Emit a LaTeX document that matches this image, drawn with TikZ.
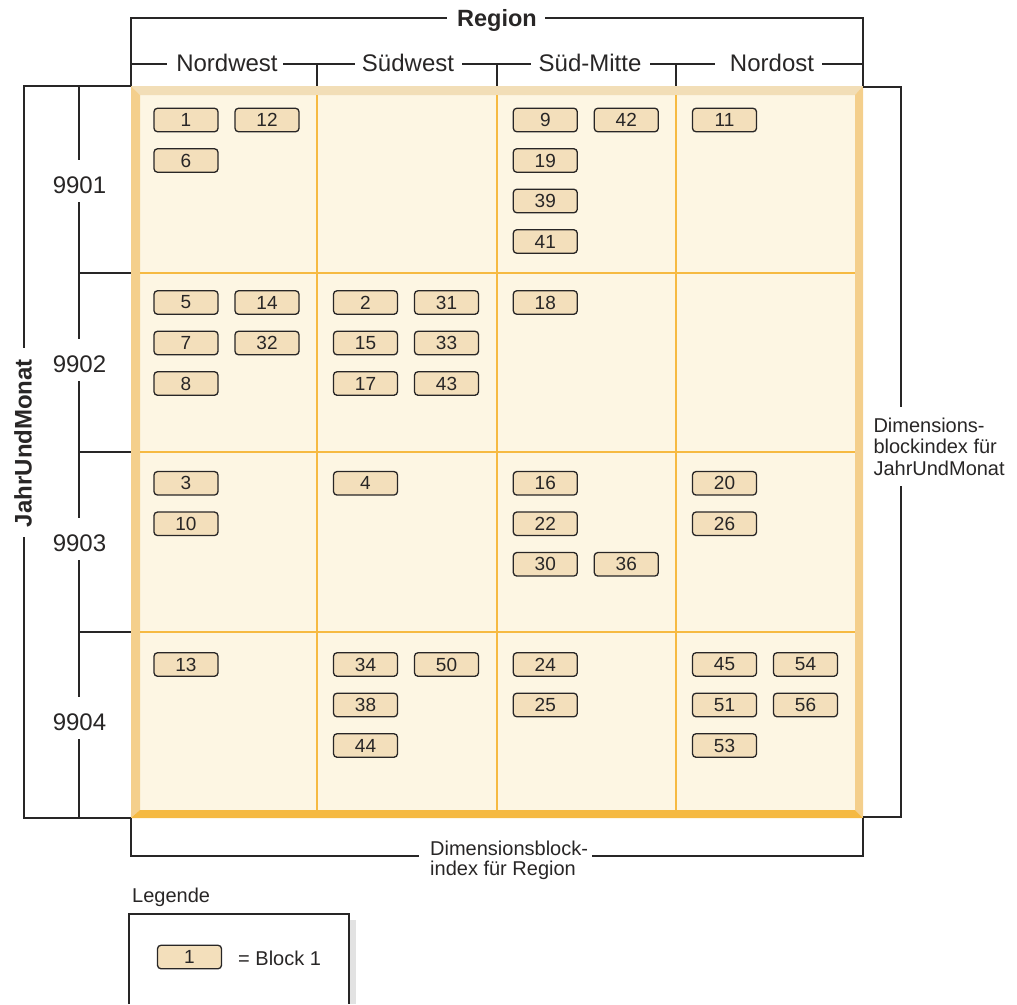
\documentclass[tikz,border=0pt]{standalone}
\usepackage{fontspec}
\setmainfont{Liberation Sans}
\definecolor{ink}{RGB}{40,38,38}
\definecolor{innerc}{RGB}{253,246,227}
\definecolor{topc}{RGB}{242,222,183}
\definecolor{sidec}{RGB}{244,207,140}
\definecolor{botc}{RGB}{245,185,66}
\definecolor{gridc}{RGB}{246,186,66}
\definecolor{blkfill}{RGB}{243,223,187}
\definecolor{shadowc}{RGB}{226,226,226}
\tikzset{
  blk/.style={draw=ink, line width=1.3pt, fill=blkfill, rounded corners=3.5pt,
    minimum width=64pt, minimum height=23.5pt, inner sep=0pt,
    font=\fontsize{19}{19}\selectfont, text=ink},
  brk/.style={draw=ink, line width=1.3pt},
  lbl/.style={font=\fontsize{24}{24}\selectfont, text=ink, inner sep=0pt, anchor=base},
  note/.style={font=\fontsize{20}{21}\selectfont, text=ink, inner sep=0pt, anchor=base west},
  gridl/.style={draw=gridc, line width=1.6pt},
}
\begin{document}
\begin{tikzpicture}[x=1pt,y=-1pt]
\useasboundingbox (0,0) rectangle (1017,1004);
% ---- frame
\fill[innerc] (131,86) rectangle (863,818);
\fill[topc] (131,86) -- (863,86) -- (855,95) -- (140,95) -- cycle;
\fill[sidec] (131,86) -- (140,95) -- (140,810) -- (131,818) -- cycle;
\fill[sidec] (863,86) -- (863,818) -- (855,810) -- (855,95) -- cycle;
\fill[botc] (131,818) -- (863,818) -- (855,810) -- (140,810) -- cycle;
% ---- grid
\foreach \gx in {317,497,676} \draw[gridl] (\gx,95) -- (\gx,810);
\foreach \gy in {273,452,632} \draw[gridl] (140,\gy) -- (855,\gy);
% ---- top bracket
\draw[brk] (131,86) -- (131,18) -- (447,18);
\draw[brk] (545,18) -- (863,18) -- (863,86);
\node[lbl, font=\fontsize{23.5}{24}\selectfont\bfseries] (region) at (497,26.7) {Region};
\draw[brk] (131,64) -- (167,64);
\draw[brk] (283,64) -- (355,64);
\draw[brk] (462,64) -- (531,64);
\draw[brk] (650,64) -- (715,64);
\draw[brk] (822,64) -- (863,64);
\foreach \tx in {317,497,676} \draw[brk] (\tx,64) -- (\tx,86);
\node[lbl] (nw) at (227,71.7) {Nordwest};
\node[lbl] (sw) at (408,71.7) {Südwest};
\node[lbl] (sm) at (590,71.7) {Süd-Mitte};
\node[lbl] (no) at (772,71.7) {Nordost};
% ---- left bracket
\draw[brk] (131,86) -- (24,86) -- (24,348);
\draw[brk] (24,537) -- (24,818) -- (131,818);
\node[font=\fontsize{24}{24}\selectfont\bfseries, text=ink, inner sep=0pt, rotate=90] (jum) at (23,443) {JahrUndMonat};
\draw[brk] (79,86) -- (79,160);
\draw[brk] (79,202) -- (79,339);
\draw[brk] (79,381) -- (79,518);
\draw[brk] (79,560) -- (79,697);
\draw[brk] (79,739) -- (79,818);
\foreach \ty in {273,452,632} \draw[brk] (79,\ty) -- (131,\ty);
\node[lbl] (r1) at (79.5,193) {9901};
\node[lbl] (r2) at (79.5,372) {9902};
\node[lbl] (r3) at (79.5,551) {9903};
\node[lbl] (r4) at (79.5,730) {9904};
% ---- right bracket
\draw[brk] (863,87) -- (901,87) -- (901,407);
\draw[brk] (901,486) -- (901,817) -- (863,817);
\node[note] (rt1) at (873.3,432.7) {Dimensions-};
\node[note] (rt2) at (873.3,453.5) {blockindex für};
\node[note] (rt3) at (873.3,475) {JahrUndMonat};
% ---- bottom bracket
\draw[brk] (131,818) -- (131,856) -- (419,856);
\draw[brk] (592,856) -- (863,856) -- (863,818);
\node[note] (bt1) at (430,855) {Dimensionsblock-};
\node[note] (bt2) at (430,875) {index für Region};
% ---- blocks
\foreach \c/\r/\i/\j/\n in {
  1/1/0/0/1, 1/1/1/0/12, 1/1/0/1/6,
  3/1/0/0/9, 3/1/1/0/42, 3/1/0/1/19, 3/1/0/2/39, 3/1/0/3/41,
  4/1/0/0/11,
  1/2/0/0/5, 1/2/1/0/14, 1/2/0/1/7, 1/2/1/1/32, 1/2/0/2/8,
  2/2/0/0/2, 2/2/1/0/31, 2/2/0/1/15, 2/2/1/1/33, 2/2/0/2/17, 2/2/1/2/43,
  3/2/0/0/18,
  1/3/0/0/3, 1/3/0/1/10,
  2/3/0/0/4,
  3/3/0/0/16, 3/3/0/1/22, 3/3/0/2/30, 3/3/1/2/36,
  4/3/0/0/20, 4/3/0/1/26,
  1/4/0/0/13,
  2/4/0/0/34, 2/4/1/0/50, 2/4/0/1/38, 2/4/0/2/44,
  3/4/0/0/24, 3/4/0/1/25,
  4/4/0/0/45, 4/4/1/0/54, 4/4/0/1/51, 4/4/1/1/56, 4/4/0/2/53}{
  \pgfmathsetmacro\xx{{186,365.5,545.3,724.5}[\c-1]+81*\i}
  \pgfmathsetmacro\yy{{120,302.5,483.3,664.5}[\r-1]+40.5*\j}
  \node[blk] (b\n) at (\xx,\yy) {\n};
}
% ---- legend
\node[note] (leg) at (132,902.7) {Legende};
\fill[shadowc] (350,920) rectangle (355.5,1004);
\draw[brk] (129,1004) -- (129,914) -- (349,914) -- (349,1004);
\node[blk] (legblk) at (189.5,957) {1};
\node[note] (legtxt) at (238,965) {= Block 1};
\end{tikzpicture}
\end{document}
